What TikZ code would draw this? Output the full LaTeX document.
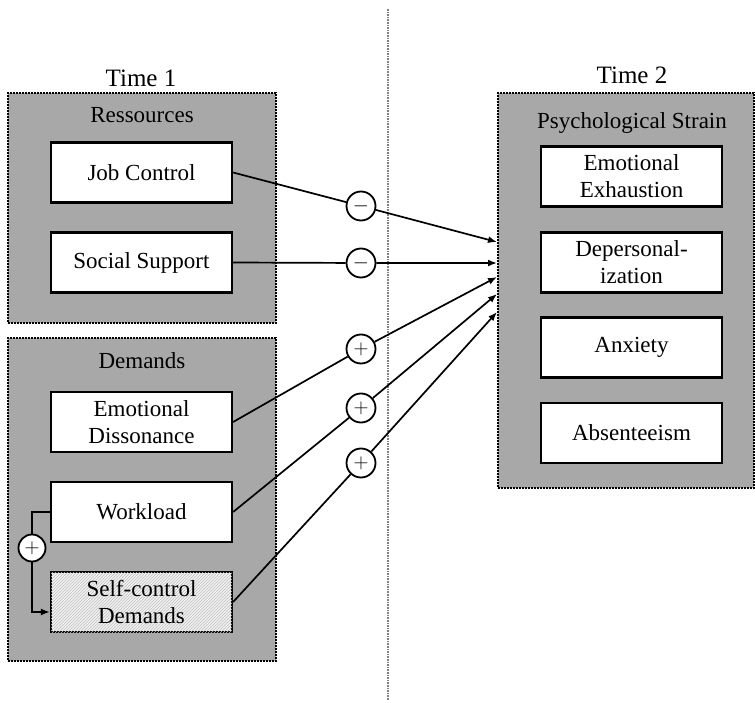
\documentclass[tikz,border=0pt]{standalone}
\usepackage{fontspec}
\setmainfont{Liberation Serif}
\usepackage{tikz}
\usetikzlibrary{positioning, arrows.meta, patterns}

\definecolor{boxgray}{gray}{0.66}

\begin{document}
\begin{tikzpicture}[x=1pt, y=-1pt,
    group/.style={draw, densely dotted, line width=2pt, fill=boxgray, inner sep=0pt},
    var/.style={draw, line width=2.2pt, fill=white, minimum width=181pt, minimum height=60pt,
                align=center, font=\fontsize{23}{27}\selectfont, inner sep=0pt},
    sign/.style={draw, circle, line width=1.8pt, fill=white, minimum size=29pt, inner sep=0pt,
                 font=\fontsize{22}{22}\selectfont},
    title/.style={font=\fontsize{23}{27}\selectfont},
    path/.style={line width=1.7pt, -{Latex[length=9pt,width=7pt]}}]
    \useasboundingbox (0,0) rectangle (755,703);

    % time divider
    \draw[gray, densely dotted, line width=1.6pt] (388,9) -- (388,700);

    % Time 1
    \node[font=\fontsize{25}{29}\selectfont] (time1) at (141,78) {Time 1};
    \node[group, minimum width=268pt, minimum height=230pt] (res) at (142,208) {};
    \node[title] (reslabel) at (142,115) {Ressources};
    \node[var] (jc) at (141.5,172.5) {Job Control};
    \node[var] (ss) at (141.5,262.5) {Social Support};

    \node[group, minimum width=268pt, minimum height=323pt] (dem) at (142,499.5) {};
    \node[title] (demlabel) at (142,361) {Demands};
    \node[var] (emd) at (141.5,422) {Emotional\\Dissonance};
    \node[var] (wl) at (141.5,512) {Workload};
    \node[var, fill=gray!10, postaction={pattern=north east lines, pattern color=gray!50}]
        (scd) at (141.5,602) {Self-control\\Demands};

    % Time 2
    \node[font=\fontsize{25}{29}\selectfont] (time2) at (632,75) {Time 2};
    \node[group, minimum width=256pt, minimum height=395pt] (strain) at (626,290.5) {};
    \node[title] (strainlabel) at (632,123) {Psychological Strain};
    \node[var] (emx) at (631.5,176.5) {Emotional\\Exhaustion};
    \node[var] (dep) at (631.5,262.5) {Depersonal-\\ization};
    \node[var] (anx) at (631.5,347.5) {Anxiety};
    \node[var] (abs) at (631.5,433) {Absenteeism};

    % effects
    \foreach \n/\y/\s/\e in {1/206/$-$/242, 2/263/$-$/263, 3/349/$+$/277, 4/408/$+$/294, 5/463/$+$/312} {
        \node[sign] (m\n) at (361,\y) {\s};
        \coordinate (p\n) at (497,\e);
    }
    \draw[path] (jc.east) -- (m1) -- (p1);
    \draw[path] (ss.east) -- (m2) -- (p2);
    \draw[path] (emd.east) -- (m3) -- (p3);
    \draw[path] (wl.east) -- (m4) -- (p4);
    \draw[path] (scd.east) -- (m5) -- (p5);

    % interaction
    \node[sign, minimum size=27pt] (inter) at (32,548) {$+$};
    \draw[line width=1.7pt] (wl.west) -| (inter);
    \draw[path] (inter) |- ([yshift=-10pt]scd.west);
\end{tikzpicture}
\end{document}
